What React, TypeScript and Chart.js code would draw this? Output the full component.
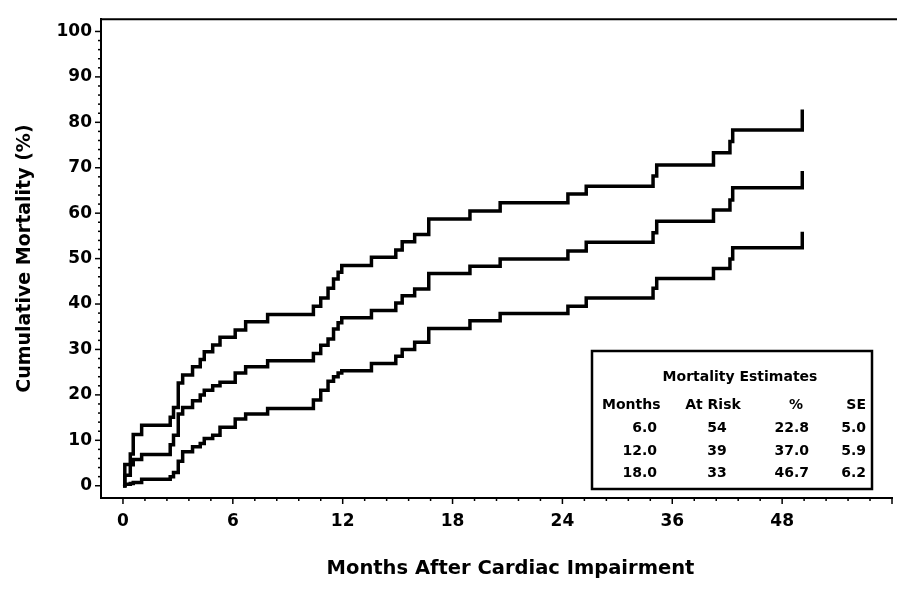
import React, { useEffect, useRef } from "react";
import { Chart, registerables } from "chart.js";

Chart.register(...registerables);

// Event times (months) shared by the estimate and its confidence limits
const eventMonths = [
  0.1, 0.4, 0.56, 1.02, 2.58, 2.76, 3.02, 3.26, 3.8, 4.22, 4.44, 4.9, 5.3, 6.13, 6.7, 7.9,
  10.4, 10.8, 11.2, 11.5, 11.75, 11.95, 13.57, 14.9, 15.25, 15.93, 16.7, 18.95, 20.6,
  24.6, 26.6, 33.9, 34.3, 40.5, 42.3, 42.6, 50.2,
];
const upperPct = [
  4.7, 7.0, 11.3, 13.3, 15.1, 17.2, 22.6, 24.4, 26.2, 27.8, 29.5, 31.0, 32.7, 34.3, 36.1, 37.7,
  39.5, 41.3, 43.5, 45.5, 47.0, 48.5, 50.3, 51.9, 53.7, 55.3, 58.7, 60.5, 62.3,
  64.2, 65.9, 68.2, 70.6, 73.3, 75.8, 78.3, 82.8,
];
const estimatePct = [
  2.3, 4.6, 5.8, 6.9, 9.0, 11.1, 15.8, 17.2, 18.7, 20.0, 21.0, 22.0, 22.8, 24.8, 26.2, 27.5,
  29.1, 30.9, 32.3, 34.5, 35.9, 37.0, 38.6, 40.2, 41.8, 43.3, 46.7, 48.3, 49.9,
  51.7, 53.6, 55.7, 58.2, 60.7, 62.9, 65.6, 69.3,
];
const lowerPct = [
  0.3, 0.5, 0.7, 1.4, 2.0, 2.9, 5.4, 7.5, 8.6, 9.3, 10.4, 11.1, 12.9, 14.7, 15.8, 17.0,
  18.9, 21.0, 23.0, 24.0, 24.8, 25.3, 26.9, 28.5, 30.0, 31.6, 34.6, 36.3, 37.9,
  39.5, 41.3, 43.5, 45.6, 47.8, 49.9, 52.4, 55.9,
];

const xTickMonths = [0, 6, 12, 18, 24, 36, 48];
const yTickValues = [0, 10, 20, 30, 40, 50, 60, 70, 80, 90, 100];

const xTitle = "Months After Cardiac Impairment";
const yTitle = "Cumulative Mortality (%)";

const tableTitle = "Mortality Estimates";
const tableHeaders = ["Months", "At Risk", "%", "SE"];
const tableMonths = ["6.0", "12.0", "18.0"];
const tableAtRisk = ["54", "39", "33"];
const tablePct = ["22.8", "37.0", "46.7"];
const tableSE = ["5.0", "5.9", "6.2"];

const FONT = "'DejaVu Sans', sans-serif";

// Broken time axis: 6-month spacing up to 24 months, 12-month spacing after
function monthToAxis(m: number): number {
  return m <= 24 ? m / 6 : 4 + (m - 24) / 12;
}

function curve(values: number[]) {
  return [{ x: 0, y: 0 }, ...eventMonths.map((m, i) => ({ x: monthToAxis(m), y: values[i] }))];
}

const decorPlugin = {
  id: "decor",
  afterDraw(chart: any) {
    const ctx = chart.ctx;
    const { left, right, top, bottom } = chart.chartArea;
    const xs = chart.scales.x;
    const ys = chart.scales.y;
    ctx.save();
    ctx.strokeStyle = "#000";
    ctx.fillStyle = "#000";

    // top frame line
    ctx.lineWidth = 2;
    ctx.beginPath();
    ctx.moveTo(left - 1, top);
    ctx.lineTo(chart.width, top);
    ctx.stroke();

    // x tick marks (major every axis unit, 4 minor between)
    ctx.lineWidth = 1.5;
    const nx = Math.round(xs.max / 0.2);
    for (let k = 0; k <= nx; k++) {
      const px = xs.getPixelForValue(k * 0.2);
      const major = k % 5 === 0;
      ctx.beginPath();
      ctx.moveTo(px, bottom);
      ctx.lineTo(px, bottom + (major ? 6 : 3));
      ctx.stroke();
    }
    // y tick marks (major every 10, minor every 2)
    for (let v = 0; v <= 100; v += 2) {
      const py = ys.getPixelForValue(v);
      const major = v % 10 === 0;
      ctx.beginPath();
      ctx.moveTo(left, py);
      ctx.lineTo(left - (major ? 6 : 3), py);
      ctx.stroke();
    }

    // x axis title
    ctx.font = `bold 19.5px ${FONT}`;
    ctx.textAlign = "center";
    ctx.textBaseline = "middle";
    ctx.fillText(xTitle, (left + right) / 2 + 14, bottom + 71);

    // estimates table
    const bw = 280;
    const bh = 138;
    const bx = right - 20 - bw;
    const by = bottom - 9 - bh;
    ctx.lineWidth = 2.5;
    ctx.strokeRect(bx, by, bw, bh);
    ctx.font = `bold 14px ${FONT}`;
    ctx.textBaseline = "middle";
    ctx.textAlign = "center";
    ctx.fillText(tableTitle, bx + 148, by + 26);

    const hy = by + 54;
    ctx.textAlign = "left";
    ctx.fillText(tableHeaders[0], bx + 10, hy);
    ctx.textAlign = "center";
    ctx.fillText(tableHeaders[1], bx + 121, hy);
    ctx.fillText(tableHeaders[2], bx + 204, hy);
    ctx.textAlign = "right";
    ctx.fillText(tableHeaders[3], bx + 274, hy);

    const rowY = [by + 77, by + 100, by + 122];
    for (let i = 0; i < tableMonths.length; i++) {
      ctx.textAlign = "right";
      ctx.fillText(tableMonths[i], bx + 65, rowY[i]);
      ctx.textAlign = "center";
      ctx.fillText(tableAtRisk[i], bx + 125, rowY[i]);
      ctx.textAlign = "right";
      ctx.fillText(tablePct[i], bx + 217, rowY[i]);
      ctx.fillText(tableSE[i], bx + 274, rowY[i]);
    }
    ctx.restore();
  },
};

export default function App() {
  const canvasRef = useRef<HTMLCanvasElement | null>(null);

  useEffect(() => {
    if (!canvasRef.current) return;
    const lineStyle = {
      borderColor: "#000",
      borderWidth: 3.5,
      pointRadius: 0,
      stepped: true as const,
      fill: false,
    };
    const chart = new Chart(canvasRef.current, {
      type: "line",
      data: {
        datasets: [
          { label: "Upper", data: curve(upperPct), ...lineStyle },
          { label: "Estimate", data: curve(estimatePct), ...lineStyle },
          { label: "Lower", data: curve(lowerPct), ...lineStyle },
        ],
      },
      options: {
        animation: false,
        responsive: false,
        layout: { padding: { top: 9, right: 5, left: 0, bottom: 0 } },
        plugins: {
          legend: { display: false },
          tooltip: { enabled: false },
        },
        scales: {
          x: {
            type: "linear",
            min: -0.2,
            max: 7,
            grid: { display: false, drawTicks: false },
            border: { display: true, color: "#000", width: 2 },
            afterBuildTicks: (s: any) => {
              s.ticks = xTickMonths.map((m) => ({ value: monthToAxis(m) }));
            },
            ticks: {
              autoSkip: false,
              maxRotation: 0,
              padding: 13,
              color: "#000",
              font: { family: FONT, size: 17, weight: "bold" },
              callback: (_v: any, i: number) => String(xTickMonths[i]),
            },
            title: { display: false },
            afterFit: (s: any) => {
              s.height = 91;
            },
          },
          y: {
            type: "linear",
            min: -2.7,
            max: 102.7,
            grid: { display: false, drawTicks: false },
            border: { display: true, color: "#000", width: 2 },
            afterBuildTicks: (s: any) => {
              s.ticks = yTickValues.map((v) => ({ value: v }));
            },
            ticks: {
              padding: 9,
              color: "#000",
              font: { family: FONT, size: 17, weight: "bold" },
              callback: (v: any) => String(v),
            },
            title: {
              display: true,
              text: yTitle,
              color: "#000",
              font: { family: FONT, size: 19, weight: "bold" },
              padding: { top: 14, bottom: 0 },
            },
            afterFit: (s: any) => {
              s.width = 101;
            },
          },
        },
      },
      plugins: [decorPlugin],
    } as any);
    return () => chart.destroy();
  }, []);

  return (
    <div style={{ position: "absolute", left: 0, top: 0, width: 897, height: 589, background: "#fff" }}>
      <canvas ref={canvasRef} width={897} height={589} style={{ display: "block", width: 897, height: 589 }} />
    </div>
  );
}
